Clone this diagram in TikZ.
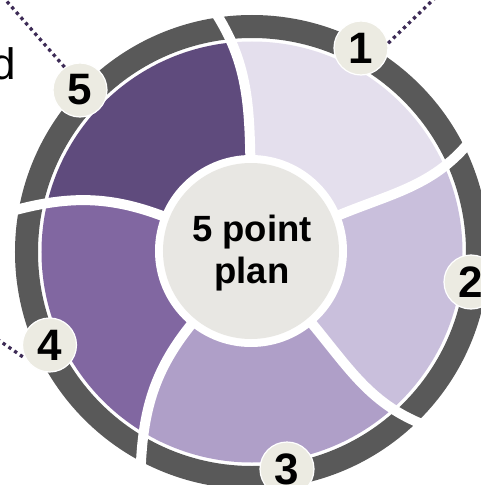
\documentclass[tikz,border=0pt]{standalone}
\usepackage{fontspec}
\setmainfont{Liberation Sans}
\begin{document}
\begin{tikzpicture}[x=1pt,y=1pt,
  divider/.style={white, line width=10pt},
  badge/.style={circle, fill=badgefill, draw=white, line width=1.2pt, minimum size=54pt, inner sep=0pt, font=\bfseries\fontsize{44}{44}\selectfont, text=black},
  hubtext/.style={anchor=base, inner sep=0pt, font=\bfseries\fontsize{36.5}{42}\selectfont, text=black},
  dotline/.style={dotcol, line width=3.3pt, dash pattern=on 3.3pt off 3.7pt}]
\definecolor{ringgray}{HTML}{595959}
\definecolor{segA}{HTML}{E4DFED}
\definecolor{segB}{HTML}{C9BFDC}
\definecolor{segC}{HTML}{AF9FC8}
\definecolor{segD}{HTML}{8167A1}
\definecolor{segE}{HTML}{5F4B7D}
\definecolor{hubfill}{HTML}{E8E7E3}
\definecolor{badgefill}{HTML}{ECEBE2}
\definecolor{dotcol}{HTML}{3D2B56}
\useasboundingbox (-252,-233) rectangle (228,252);
% segments
\begin{scope}
\clip (0,0) circle (210.5);
\fill[segA] (0,0) -- (23:88) to[out=23,in=232.5] (27.5:250) -- (27.5:330) -- (63.5:330) -- (99.5:330) -- (99.5:250) to[out=304.5,in=91] (91:88) -- cycle;
\fill[segB] (0,0) -- (-50:88) to[out=-50,in=160.5] (-44.5:250) -- (-44.5:330) -- (-8.5:330) -- (27.5:330) -- (27.5:250) to[out=232.5,in=23] (23:88) -- cycle;
\fill[segC] (0,0) -- (-130:88) to[out=-130,in=88.5] (-116.5:250) -- (-116.5:330) -- (-80.5:330) -- (-44.5:330) -- (-44.5:250) to[out=160.5,in=-50] (-50:88) -- cycle;
\fill[segD] (0,0) -- (158:88) to[out=158,in=16] (171:250) -- (171:330) -- (207.25:330) -- (243.5:330) -- (243.5:250) to[out=88.5,in=230] (230:88) -- cycle;
\fill[segE] (0,0) -- (91:88) to[out=91,in=304.5] (99.5:250) -- (99.5:330) -- (135.25:330) -- (171:330) -- (171:250) to[out=16,in=158] (158:88) -- cycle;
\end{scope}
% outer ring
\fill[ringgray, even odd rule] (0,0) circle (237) (0,0) circle (214);
% dividers
\draw[divider] (91:88) to[out=91,in=304.5] (99.5:250);
\draw[divider] (23:88) to[out=23,in=232.5] (27.5:250);
\draw[divider] (-50:88) to[out=-50,in=160.5] (-44.5:250);
\draw[divider] (-130:88) to[out=-130,in=88.5] (-116.5:250);
\draw[divider] (158:88) to[out=158,in=16] (171:250);
% hub
\fill[white] (-1,1) circle (96);
\fill[hubfill] (-1,1) circle (88);
\node[hubtext] (hubA) at (0,11) {5 point};
\node[hubtext] (hubB) at (0,-31) {plan};
% badges
\coordinate (end5) at (-249,255);
\coordinate (end1) at (184,255);
\coordinate (end4) at (-255,-87);
\node[badge] (b1) at (109,204) {1};
\node[badge] (b2) at (219,-30) {2};
\node[badge] (b3) at (35,-217) {3};
\node[badge] (b4) at (-202.5,-93) {4};
\node[badge] (b5) at (-172,162) {5};
\draw[dotline] (b5.124) -- (end5);
\draw[dotline] (b1.10) -- (end1);
\draw[dotline] (end4) -- (b4.210);
\node[anchor=base east, inner sep=0pt, font=\fontsize{44}{44}\selectfont, text=black] (dtext) at (-236,172) {d};
\end{tikzpicture}
\end{document}
